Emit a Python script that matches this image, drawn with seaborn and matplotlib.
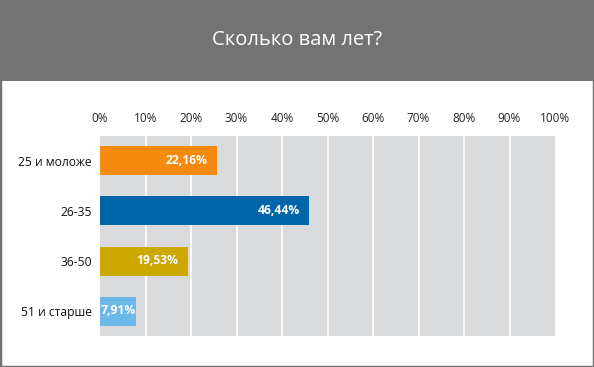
import numpy as np
import pandas as pd
import seaborn as sns
import matplotlib.pyplot as plt
from matplotlib.patches import Rectangle

categories = ["25 и моложе", "26-35", "36-50", "51 и старше"]
# bar lengths as drawn in the picture (the orange one is longer than its label)
values = [25.7, 45.9, 19.25, 8.0]
value_labels = ["22,16%", "46,44%", "19,53%", "7,91%"]
bar_colors = ["#F68A0E", "#0065A9", "#CCA800", "#6CB8E9"]
tick_values = list(range(0, 101, 10))
tick_labels = [f"{t}%" for t in tick_values]
title = "Сколько вам лет?"

sns.set_theme(style="white")
plt.rcParams["font.family"] = ["Open Sans", "DejaVu Sans"]

df = pd.DataFrame({"age": categories, "share": values})

W, H = 594, 367
fig = plt.figure(figsize=(W / 100, H / 100), dpi=100)
fig.patch.set_facecolor("white")

# frame + title bar
fig.patches.append(Rectangle((0, 0), 1, 1, transform=fig.transFigure,
                             facecolor="none", edgecolor="#737373",
                             linewidth=2.5, zorder=0))
fig.patches.append(Rectangle((0, (H - 81) / H), 1, 81 / H, transform=fig.transFigure,
                             facecolor="#737373", edgecolor="none", zorder=0))
fig.text(0.5, (H - 40) / H, title, color="white", fontsize=14.5,
         ha="center", va="center")

ax = fig.add_axes([100 / W, (H - 336) / H, 455 / W, 200 / H])
ax.set_facecolor("#D9DADC")

sns.barplot(data=df, x="share", y="age", hue="age", palette=bar_colors,
            orient="h", width=0.58, legend=False, ax=ax, saturation=1,
            linewidth=0, zorder=3)

ax.set_xlim(0, 100)
ax.set_xticks(tick_values)
ax.set_xticklabels(tick_labels)
for t in tick_values[1:-1]:
    ax.axvline(t, color="white", linewidth=1.2, zorder=1)

ax.xaxis.tick_top()
ax.tick_params(axis="x", length=0, pad=8, labelsize=8.5, colors="#222222")
for lab in ax.get_xticklabels():
    lab.set_x(lab.get_position()[0])
ax.tick_params(axis="y", length=0, pad=6, labelsize=8.7, colors="#111111")
ax.set_xlabel("")
ax.set_ylabel("")
for s in ax.spines.values():
    s.set_visible(False)

for i, (v, lab) in enumerate(zip(values, value_labels)):
    if v < 10:
        ax.annotate(lab, (0, i), xytext=(0.5, 0), textcoords="offset points",
                    ha="left", va="center", color="white", fontsize=8.7,
                    fontweight="bold", zorder=4)
    else:
        ax.annotate(lab, (v, i), xytext=(-6.5, 0), textcoords="offset points",
                    ha="right", va="center", color="white", fontsize=8.7,
                    fontweight="bold", zorder=4)

fig.savefig("out.png", dpi=100)
